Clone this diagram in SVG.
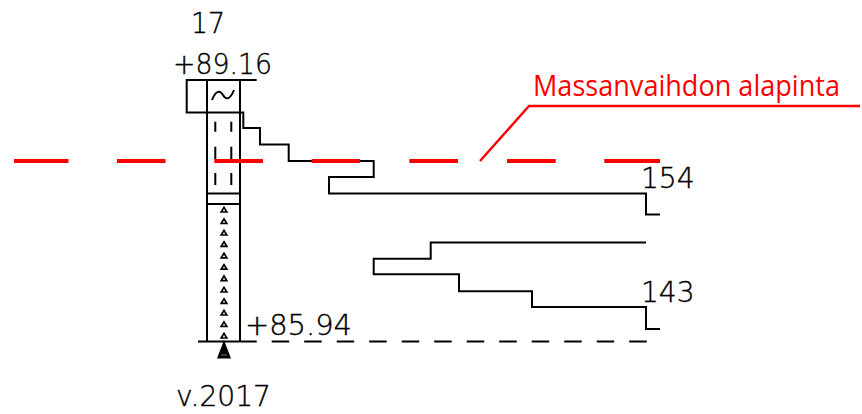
<svg xmlns="http://www.w3.org/2000/svg" width="862" height="414" viewBox="0 0 862 414">
<style>
.k{fill:none;stroke:#000;stroke-width:2}
.t{font-family:"DejaVu Sans","Liberation Sans",sans-serif;font-weight:200;font-size:28px;fill:#000;stroke:#000;stroke-width:.4}
.r{fill:none;stroke:#f00;stroke-width:2.4}
.rd{fill:none;stroke:#f00;stroke-width:3.8}
.tri{fill:#fff;stroke:#000;stroke-width:1.7}
</style>
<defs><polygon id="tr" points="224,-2.6 226.8,2 221.2,2" class="tri"/></defs>
<rect width="862" height="414" fill="#fff"/>
<g id="connectors">
<path class="k" d="M240 112.5H243.3V128H260V144.5H288.7V161H373.7V177H329V193.5H646V214.5H660"/>
<path class="k" d="M646 242.5H430.7V258.7H373.7V274.3H459V291.3H532V307H646V329H660"/>
<path class="k" d="M198 341.5H256.7"/>
<path class="k" d="M271.7 341.5H647" stroke-dasharray="17.5 15"/>
</g>
<g id="pile-17">
<path class="k" d="M256.7 80H186.7V112.5H240M207 80V341.5M240 80V341.5M207 193.5H240M207 204H240"/>
<path class="k" d="M212 100C216 90 220 90 223 95C226 100 230 100 234 90"/>
<path class="k" d="M215.3 121.7V131.7M231.3 121.7V131.7M215.3 146.7V159M231.3 146.7V159M215.3 173V185M231.3 173V185"/>
<use href="#tr" y="210"/><use href="#tr" y="221.5"/><use href="#tr" y="233"/><use href="#tr" y="244.4"/><use href="#tr" y="255.8"/><use href="#tr" y="267.2"/><use href="#tr" y="278.6"/><use href="#tr" y="290"/><use href="#tr" y="301.4"/><use href="#tr" y="313"/><use href="#tr" y="324.5"/><use href="#tr" y="336"/>
<polygon points="224,340 231,358.5 217,358.5" fill="#000"/>
<path d="M221 355H227" stroke="#666" stroke-width="1"/>
</g>
<g id="red-level">
<path class="rd" d="M14 161H68.5M117 161H165.5M214.3 161H263M311.7 161H360M409.3 161H458M507 161H555.7M604.3 161H660"/>
<path class="r" d="M480 161L529 106H860"/>
<text x="533" y="96" font-family="Open Sans" font-size="29" fill="#f00" textLength="307" lengthAdjust="spacingAndGlyphs">Massanvaihdon alapinta</text>
</g>
<g id="labels">
<text class="t" x="191" y="33" textLength="34" lengthAdjust="spacingAndGlyphs">17</text>
<text class="t" x="173" y="74" textLength="99" lengthAdjust="spacingAndGlyphs">+89.16</text>
<text class="t" x="641" y="188">154</text>
<text class="t" x="641" y="302">143</text>
<text class="t" x="245" y="335" textLength="107" lengthAdjust="spacingAndGlyphs">+85.94</text>
<text class="t" x="176" y="406" textLength="95" lengthAdjust="spacingAndGlyphs">v.2017</text>
</g>
</svg>
